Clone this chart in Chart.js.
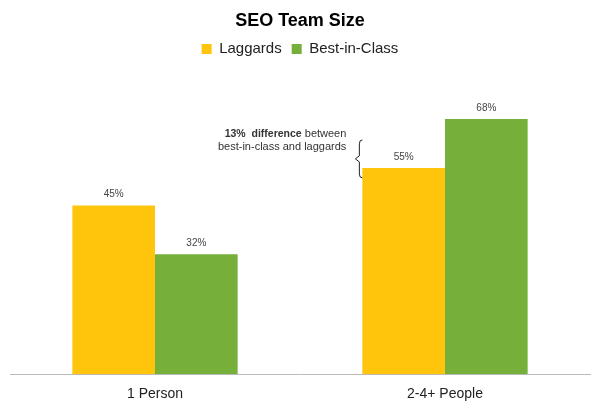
<!DOCTYPE html>
<html>
<head>
<meta charset="UTF-8">
<title>SEO Team Size</title>
<script src="https://cdn.jsdelivr.net/npm/chart.js"></script>
<style>
  body { margin: 0; background: #fff; }
  .wrap { width: 600px; height: 410px; }
</style>
</head>
<body>
<div class="wrap"><canvas id="grafico"></canvas></div>
<script>
// dados do gráfico
var categorias = ['1 Person', '2-4+ People'];
var laggards = [45, 55];
var bestInClass = [32, 68];
var nomes = ['Laggards', 'Best-in-Class'];

// rótulos de valor acima das barras + anotação da diferença
var rotulos = {
    id: 'rotulos',
    afterDatasetsDraw: function (chart) {
        var ctx = chart.ctx;
        ctx.save();
        ctx.font = '10px "Liberation Sans", Arial, sans-serif';
        ctx.fillStyle = '#444';
        ctx.textAlign = 'center';
        ctx.textBaseline = 'bottom';
        chart.data.datasets.forEach(function (ds, i) {
            chart.getDatasetMeta(i).data.forEach(function (bar, j) {
                ctx.fillText(ds.data[j] + '%', bar.x, bar.y - 6);
            });
        });

        // chave e texto da diferença
        var bar = chart.getDatasetMeta(0).data[1];
        var x = bar.x - bar.width / 2 - 3;
        var topo = bar.y - 28, base = bar.y + 10, meio = (topo + base) / 2;
        ctx.strokeStyle = '#222';
        ctx.lineWidth = 1;
        ctx.beginPath();
        ctx.moveTo(x + 3, topo);
        ctx.quadraticCurveTo(x, topo, x, topo + 4);
        ctx.lineTo(x, meio - 3);
        ctx.lineTo(x - 4, meio);
        ctx.lineTo(x, meio + 3);
        ctx.lineTo(x, base - 4);
        ctx.quadraticCurveTo(x, base, x + 3, base);
        ctx.stroke();

        var dif = bestInClass[1] - laggards[1];
        var tx = x - 13;
        ctx.textAlign = 'right';
        ctx.textBaseline = 'middle';
        ctx.fillStyle = '#333';
        ctx.font = '11px "Liberation Sans", Arial, sans-serif';
        var resto = ' between';
        var w = ctx.measureText(resto).width;
        ctx.fillText(resto, tx, topo - 6);
        ctx.font = 'bold 10.5px "Liberation Sans", Arial, sans-serif';
        ctx.fillText(dif + '%  difference', tx - w, topo - 6);
        ctx.font = '11px "Liberation Sans", Arial, sans-serif';
        ctx.fillText('best-in-class and laggards', tx, topo + 7);
        ctx.restore();
    }
};

var ctx = document.getElementById('grafico').getContext('2d');
var grafico = new Chart(ctx, {
    type: 'bar',
    data: {
        labels: categorias,
        datasets: [{
            label: nomes[0],
            data: laggards,
            backgroundColor: '#FFC40C',
            borderWidth: 0
        }, {
            label: nomes[1],
            data: bestInClass,
            backgroundColor: '#76B03A',
            borderWidth: 0
        }]
    },
    options: {
        responsive: true,
        maintainAspectRatio: false,
        animation: false,
        categoryPercentage: 0.57,
        barPercentage: 1.0,
        layout: { padding: { left: 10, right: 10, top: 0, bottom: -5 } },
        plugins: {
            title: {
                display: true,
                text: 'SEO Team Size',
                color: '#000',
                font: { family: '"Liberation Sans", Arial, sans-serif', size: 18, weight: 'bold' },
                padding: { top: 10, bottom: 0 }
            },
            legend: {
                labels: {
                    color: '#222',
                    boxWidth: 10,
                    boxHeight: 10,
                    padding: 10,
                    font: { family: '"Liberation Sans", Arial, sans-serif', size: 15 }
                }
            },
            tooltip: { enabled: false }
        },
        scales: {
            x: {
                grid: { display: false, drawTicks: false },
                border: { color: '#bbb', width: 1 },
                ticks: {
                    color: '#222',
                    padding: 12,
                    font: { family: '"Liberation Sans", Arial, sans-serif', size: 14 }
                }
            },
            y: {
                display: false,
                min: 0,
                max: 82
            }
        }
    },
    plugins: [rotulos]
});
</script>
</body>
</html>
